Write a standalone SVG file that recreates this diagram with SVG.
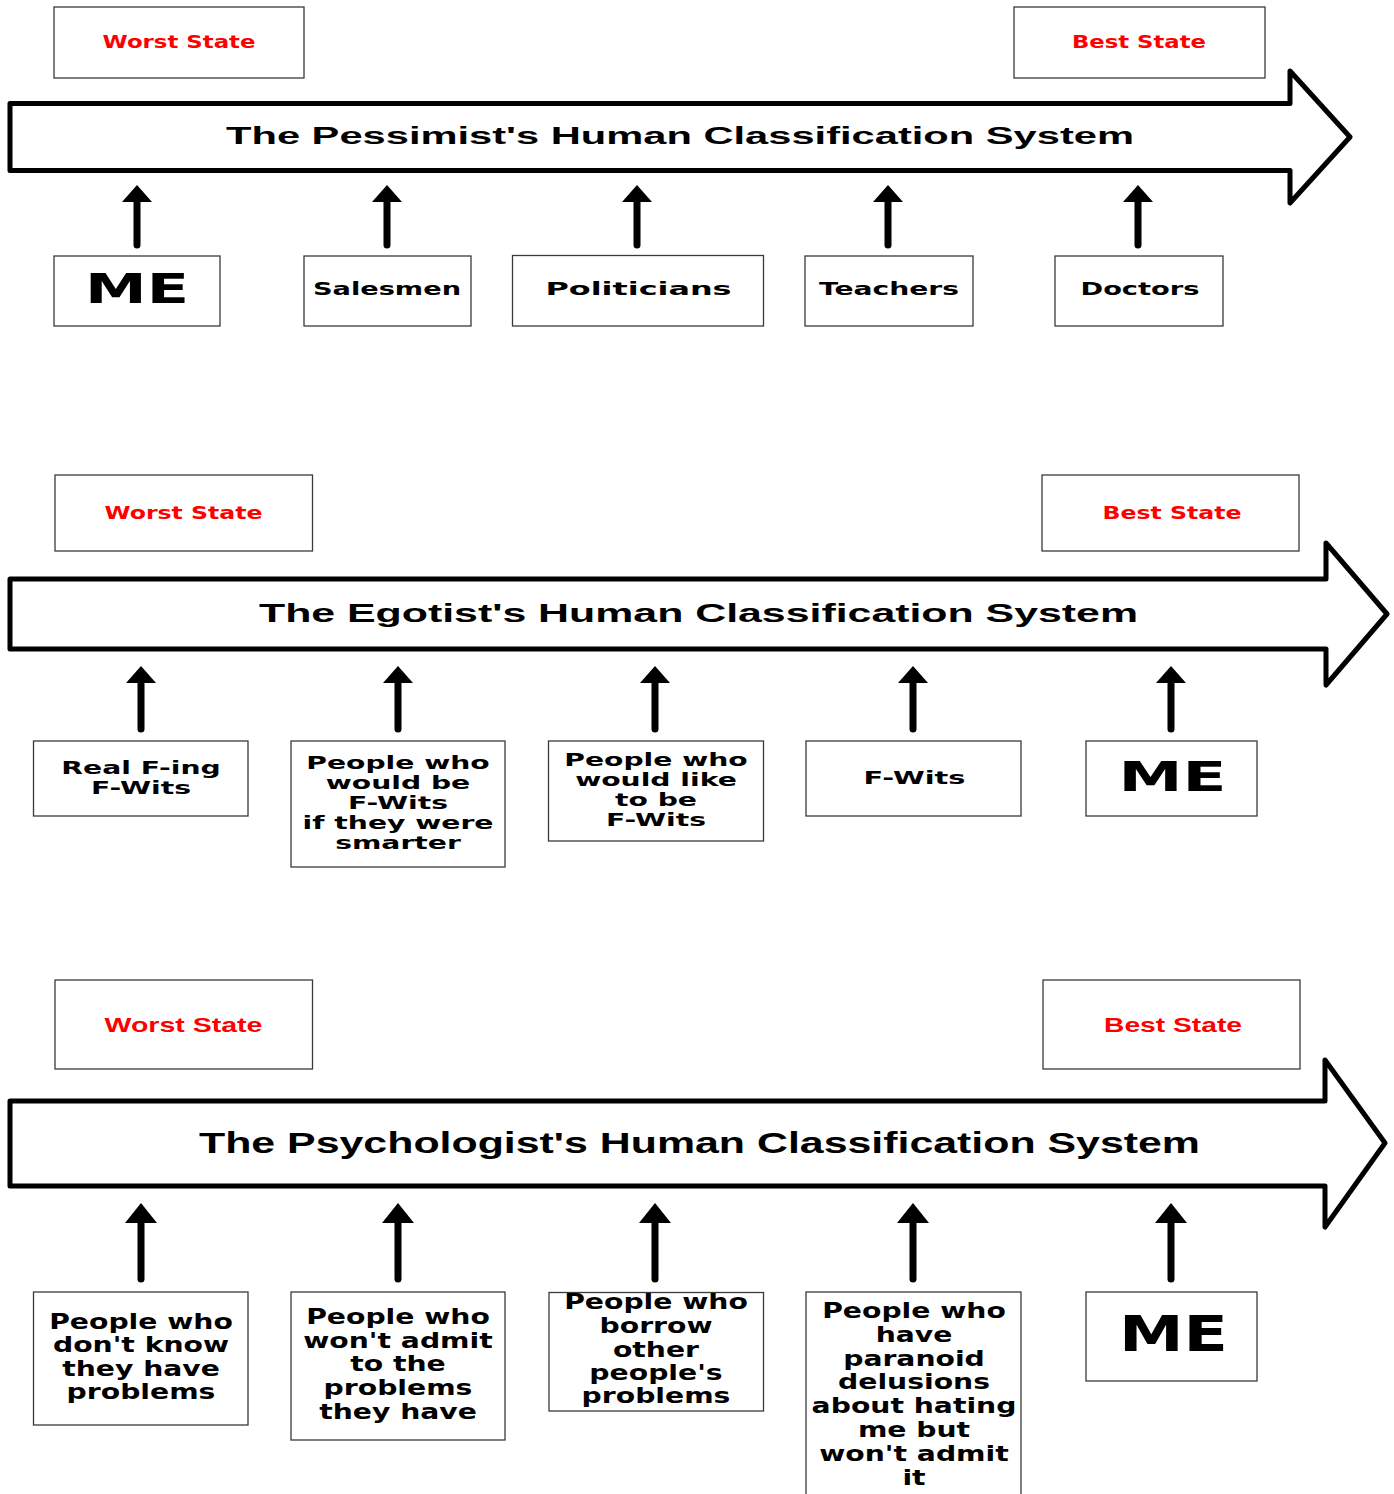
<svg xmlns="http://www.w3.org/2000/svg" width="1394" height="1494" viewBox="0 0 1394 1494">
<style>
.box{fill:#fff;stroke:#3a3a3a;stroke-width:1.3}
.big{fill:#fff;stroke:#000;stroke-width:5;stroke-linejoin:round}
.conn{stroke:#000;stroke-width:7;stroke-linecap:round;fill:none}
.lbl{font-family:"DejaVu Sans",Verdana,sans-serif;font-weight:bold;text-anchor:middle;fill:#000}
.red{fill:#ff0000}
.lib{font-family:"Liberation Sans",Arial,sans-serif;font-weight:bold;text-anchor:middle}
.ttl{font-family:"Liberation Sans",Arial,sans-serif;font-weight:bold;text-anchor:middle;fill:#000}
</style>
<defs>
<marker id="ah" markerUnits="userSpaceOnUse" viewBox="-3 -17 22 34" markerWidth="22" markerHeight="34" refX="0" refY="0" orient="auto" overflow="visible">
<path d="M-2,-15 L15,0 L-2,15 Z" fill="#000"/>
</marker>
<marker id="ah3" markerUnits="userSpaceOnUse" viewBox="-3 -17 22 34" markerWidth="22" markerHeight="34" refX="0" refY="0" orient="auto" overflow="visible">
<path d="M-2,-16 L18,0 L-2,16 Z" fill="#000"/>
</marker>
</defs>
<rect width="1394" height="1494" fill="#fff"/>

<!-- Panel 1 -->
<g id="p1-worst"><rect class="box" x="54" y="7" width="250" height="71"/><text class="lbl red" x="179" y="48" font-size="17" textLength="153" lengthAdjust="spacingAndGlyphs">Worst State</text></g>
<g id="p1-best"><rect class="box" x="1014" y="7" width="251" height="71"/><text class="lbl red" x="1139" y="48" font-size="17" textLength="134" lengthAdjust="spacingAndGlyphs">Best State</text></g>
<g id="p1-axis"><path class="big" d="M10,103.5 L1290,103.5 L1290,71 L1350,137 L1290,203 L1290,170.5 L10,170.5 Z"/><text class="ttl" x="680" y="144" font-size="24" textLength="908" lengthAdjust="spacingAndGlyphs">The Pessimist's Human Classification System</text></g>
<g id="p1-me"><rect class="box" x="54" y="256" width="166" height="70"/><text class="lbl" x="137" y="303" font-size="40" textLength="104" lengthAdjust="spacingAndGlyphs">ME</text></g>
<g id="p1-salesmen"><rect class="box" x="304" y="256" width="167" height="70"/><text class="lbl" x="387" y="295" font-size="17" textLength="148" lengthAdjust="spacingAndGlyphs">Salesmen</text></g>
<g id="p1-politicians"><rect class="box" x="512.5" y="255.5" width="251" height="70.5"/><text class="lbl" x="638.5" y="295" font-size="17" textLength="186" lengthAdjust="spacingAndGlyphs">Politicians</text></g>
<g id="p1-teachers"><rect class="box" x="805" y="256" width="168" height="70"/><text class="lbl" x="889" y="295" font-size="17" textLength="140" lengthAdjust="spacingAndGlyphs">Teachers</text></g>
<g id="p1-doctors"><rect class="box" x="1055" y="256" width="168" height="70"/><text class="lbl" x="1140" y="295" font-size="17" textLength="119" lengthAdjust="spacingAndGlyphs">Doctors</text></g>

<!-- Panel 2 -->
<g id="p2-worst"><rect class="box" x="55" y="475" width="257.5" height="76"/><text class="lbl red" x="183.5" y="519" font-size="18" textLength="158" lengthAdjust="spacingAndGlyphs">Worst State</text></g>
<g id="p2-best"><rect class="box" x="1042" y="475" width="257" height="76"/><text class="lbl red" x="1172" y="519" font-size="18" textLength="139" lengthAdjust="spacingAndGlyphs">Best State</text></g>
<g id="p2-axis"><path class="big" d="M10,579 L1326,579 L1326,543 L1387,614 L1326,685 L1326,649 L10,649 Z"/><text class="ttl" x="698.5" y="622" font-size="25" textLength="879" lengthAdjust="spacingAndGlyphs">The Egotist's Human Classification System</text></g>
<g id="p2-real"><rect class="box" x="33.5" y="741" width="214.5" height="75"/><text class="lbl" font-size="17" transform="translate(141,0) scale(1.66,1)"><tspan x="0" y="774">Real F-ing</tspan><tspan x="0" y="794">F-Wits</tspan></text></g>
<g id="p2-wouldbe"><rect class="box" x="291" y="741" width="214" height="126"/><text class="lbl" font-size="17" transform="translate(398,0) scale(1.66,1)"><tspan x="0" y="769">People who</tspan><tspan x="0" y="789">would be</tspan><tspan x="0" y="809">F-Wits</tspan><tspan x="0" y="829">if they were</tspan><tspan x="0" y="849">smarter</tspan></text></g>
<g id="p2-wouldlike"><rect class="box" x="548.5" y="741" width="215" height="100"/><text class="lbl" font-size="17" transform="translate(656,0) scale(1.66,1)"><tspan x="0" y="766">People who</tspan><tspan x="0" y="786">would like</tspan><tspan x="0" y="806">to be</tspan><tspan x="0" y="826.5">F-Wits</tspan></text></g>
<g id="p2-fwits"><rect class="box" x="806" y="741" width="215" height="75"/><text class="lbl" x="914.5" y="784" font-size="17" textLength="102" lengthAdjust="spacingAndGlyphs">F-Wits</text></g>
<g id="p2-me"><rect class="box" x="1086" y="741" width="171" height="75"/><text class="lbl" x="1172.5" y="791" font-size="41" textLength="108" lengthAdjust="spacingAndGlyphs">ME</text></g>

<!-- Panel 3 -->
<g id="p3-worst"><rect class="box" x="55" y="980" width="257.5" height="89"/><text class="lib red" x="183.5" y="1032" font-size="21" textLength="158" lengthAdjust="spacingAndGlyphs">Worst State</text></g>
<g id="p3-best"><rect class="box" x="1043" y="980" width="257" height="89"/><text class="lib red" x="1173" y="1032" font-size="21" textLength="138" lengthAdjust="spacingAndGlyphs">Best State</text></g>
<g id="p3-axis"><path class="big" d="M10,1101 L1325,1101 L1325,1060 L1385,1143 L1325,1227 L1325,1186 L10,1186 Z"/><text class="ttl" x="699.5" y="1153" font-size="29.5" textLength="1001" lengthAdjust="spacingAndGlyphs">The Psychologist's Human Classification System</text></g>
<g id="p3-dontknow"><rect class="box" x="33.5" y="1292" width="214.5" height="133"/><text class="lbl" font-size="21" transform="translate(141,0) scale(1.346,1)"><tspan x="0" y="1329">People who</tspan><tspan x="0" y="1352.5">don't know</tspan><tspan x="0" y="1376">they have</tspan><tspan x="0" y="1399.5">problems</tspan></text></g>
<g id="p3-wontadmit"><rect class="box" x="291" y="1292" width="214" height="148"/><text class="lbl" font-size="21" transform="translate(398,0) scale(1.346,1)"><tspan x="0" y="1324.3">People who</tspan><tspan x="0" y="1348">won't admit</tspan><tspan x="0" y="1371.5">to the</tspan><tspan x="0" y="1395">problems</tspan><tspan x="0" y="1419">they have</tspan></text></g>
<g id="p3-borrow"><rect class="box" x="549" y="1292.5" width="214.5" height="118.5"/><text class="lbl" font-size="21" transform="translate(656,0) scale(1.346,1)"><tspan x="0" y="1309.3">People who</tspan><tspan x="0" y="1333.3">borrow</tspan><tspan x="0" y="1356.7">other</tspan><tspan x="0" y="1380">people's</tspan><tspan x="0" y="1403">problems</tspan></text></g>
<g id="p3-paranoid"><rect class="box" x="806" y="1292" width="215" height="220"/><text class="lbl" font-size="21" transform="translate(914,0) scale(1.346,1)"><tspan x="0" y="1318.3">People who</tspan><tspan x="0" y="1342">have</tspan><tspan x="0" y="1365.7">paranoid</tspan><tspan x="0" y="1389.3">delusions</tspan><tspan x="0" y="1413.3">about hating</tspan><tspan x="0" y="1437">me but</tspan><tspan x="0" y="1460.7">won't admit</tspan><tspan x="0" y="1485">it</tspan></text></g>
<g id="p3-me"><rect class="box" x="1086" y="1292" width="171" height="89"/><text class="lbl" x="1173.5" y="1351" font-size="50" textLength="109" lengthAdjust="spacingAndGlyphs">ME</text></g>

<g id="connectors">
<line class="conn" x1="137" y1="245" x2="137" y2="200" marker-end="url(#ah)"/>
<line class="conn" x1="387" y1="245" x2="387" y2="200" marker-end="url(#ah)"/>
<line class="conn" x1="637" y1="245" x2="637" y2="200" marker-end="url(#ah)"/>
<line class="conn" x1="888" y1="245" x2="888" y2="200" marker-end="url(#ah)"/>
<line class="conn" x1="1138" y1="245" x2="1138" y2="200" marker-end="url(#ah)"/>
<line class="conn" x1="141" y1="729" x2="141" y2="681" marker-end="url(#ah)"/>
<line class="conn" x1="398" y1="729" x2="398" y2="681" marker-end="url(#ah)"/>
<line class="conn" x1="655" y1="729" x2="655" y2="681" marker-end="url(#ah)"/>
<line class="conn" x1="913" y1="729" x2="913" y2="681" marker-end="url(#ah)"/>
<line class="conn" x1="1171" y1="729" x2="1171" y2="681" marker-end="url(#ah)"/>
<line class="conn" x1="141" y1="1279" x2="141" y2="1221" marker-end="url(#ah3)"/>
<line class="conn" x1="398" y1="1279" x2="398" y2="1221" marker-end="url(#ah3)"/>
<line class="conn" x1="655" y1="1279" x2="655" y2="1221" marker-end="url(#ah3)"/>
<line class="conn" x1="913" y1="1279" x2="913" y2="1221" marker-end="url(#ah3)"/>
<line class="conn" x1="1171" y1="1279" x2="1171" y2="1221" marker-end="url(#ah3)"/>
</g>
</svg>
